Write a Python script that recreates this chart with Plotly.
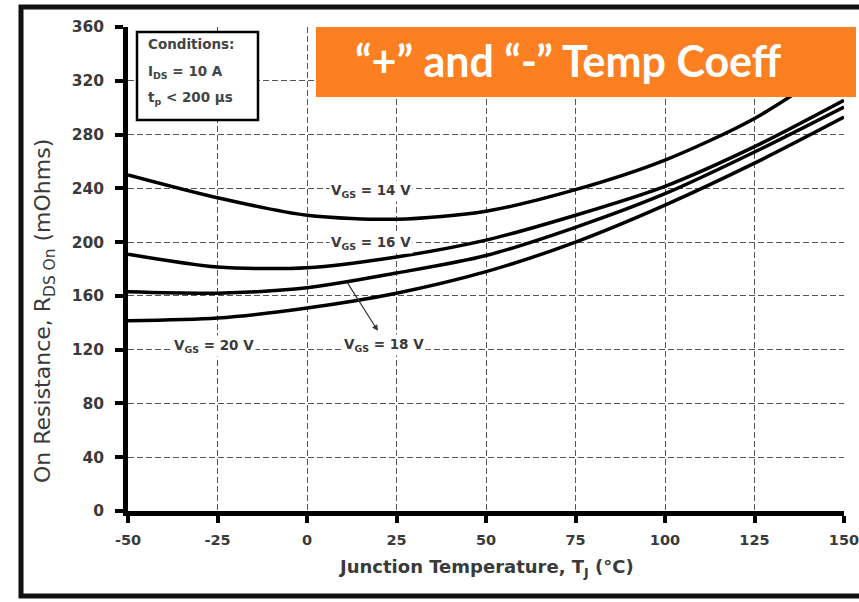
import plotly.graph_objects as go

# ---------------- data ----------------
temps = [-50, -25, 0, 25, 50, 75, 100, 125, 150]
vgs14 = [250, 233, 220, 217, 223, 239, 261, 292, 335]
vgs16 = [191, 181.5, 181, 189, 201.5, 220, 241.5, 271, 305.5]
vgs18 = [163, 162, 166, 177, 190, 211, 236, 267, 300.5]
vgs20 = [141.5, 143.5, 151, 162, 178, 200, 227.5, 258.7, 293]

x_ticks = [-50, -25, 0, 25, 50, 75, 100, 125, 150]
y_ticks = [0, 40, 80, 120, 160, 200, 240, 280, 320, 360]

W, H = 859, 602
L, R, T, B = 128, 844, 27, 511  # plot area in pixels


def px(xp):
    return (xp - L) / (R - L)


def py(yp):
    return (B - yp) / (B - T)


FONT = "DejaVu Sans"
TXT = "#3a3a3a"

fig = go.Figure()
for ys in (vgs14, vgs16, vgs18, vgs20):
    fig.add_trace(go.Scatter(x=temps, y=ys, mode="lines",
                             line=dict(color="black", width=3.5, shape="spline", smoothing=0.8),
                             showlegend=False, hoverinfo="skip"))

axis_common = dict(showgrid=True, gridcolor="#555", griddash="6px,3px", gridwidth=1.4,
                   showline=True, linecolor="black", linewidth=4.5,
                   ticks="outside", tickwidth=4, tickcolor="black",
                   zeroline=False, automargin=False, ticklabeloverflow="allow")

fig.update_layout(
    width=W, height=H, autosize=False,
    margin=dict(l=L, r=W - R, t=T, b=H - B),
    paper_bgcolor="white", plot_bgcolor="white",
    font=dict(family=FONT, color=TXT),
    xaxis=dict(range=[-50, 150], tickvals=x_ticks, ticktext=[str(v) for v in x_ticks],
               ticklen=7, ticklabelstandoff=5,
               tickfont=dict(size=14.5, family=FONT, weight="bold", color=TXT), **axis_common),
    yaxis=dict(range=[0, 360], tickvals=y_ticks, ticktext=[str(v) for v in y_ticks],
               ticklen=8, ticklabelstandoff=8,
               tickfont=dict(size=15.5, family=FONT, weight="bold", color=TXT), **axis_common),
)


def note(xp, yp, text, font, xanchor="center", **kw):
    fig.add_annotation(xref="paper", yref="paper", x=px(xp), y=py(yp), text=text,
                       showarrow=False, xanchor=xanchor, yanchor="middle", font=font, **kw)


# axis titles
note(486, 568, "Junction Temperature, T<sub>J</sub> (°C)",
     dict(size=18, family=FONT, weight="bold", color=TXT))
note(44, 311, "On Resistance, R<sub>DS On</sub> (mOhms)",
     dict(size=22, family=FONT, color=TXT), textangle=-90)

# curve labels
lab = dict(size=13.5, family=FONT, weight="bold", color=TXT)
for xv, yv, txt in ((18, 238, "V<sub>GS</sub> = 14 V"), (18, 199, "V<sub>GS</sub> = 16 V"),
                    (-26, 123, "V<sub>GS</sub> = 20 V"), (21.5, 123.5, "V<sub>GS</sub> = 18 V")):
    fig.add_annotation(x=xv, y=yv, text=txt, showarrow=False, bgcolor="white", font=lab,
                       xanchor="center", yanchor="middle")
fig.add_annotation(x=19.8, y=134, ax=11, ay=171, axref="x", ayref="y", text="",
                   showarrow=True, arrowhead=2, arrowsize=1, arrowwidth=1.2, arrowcolor="#333")

# conditions box
fig.add_shape(type="rect", xref="paper", yref="paper",
              x0=px(137), x1=px(258), y0=py(32), y1=py(120),
              line=dict(color="black", width=2.5), fillcolor="white")
cond = dict(size=13.5, family=FONT, weight="bold", color="#444")
for txt, yp in (("Conditions:", 44), ("I<sub>DS</sub> = 10 A", 72), ("t<sub>p</sub> < 200 µs", 98)):
    note(146, yp, txt, cond, xanchor="left")

# orange banner
fig.add_shape(type="rect", xref="paper", yref="paper",
              x0=px(316), x1=px(856), y0=py(27), y1=py(97),
              line=dict(width=0), fillcolor="#FC8022", layer="above")
note(568, 61, "“+” and “-” Temp Coeff",
     dict(size=43, family="Lato", weight="bold", color="white"))

# outer frame
fig.add_shape(type="rect", xref="paper", yref="paper",
              x0=px(21), x1=px(866), y0=py(7), y1=py(596),
              line=dict(color="#111", width=5), layer="above")

fig.write_html("out.html")
